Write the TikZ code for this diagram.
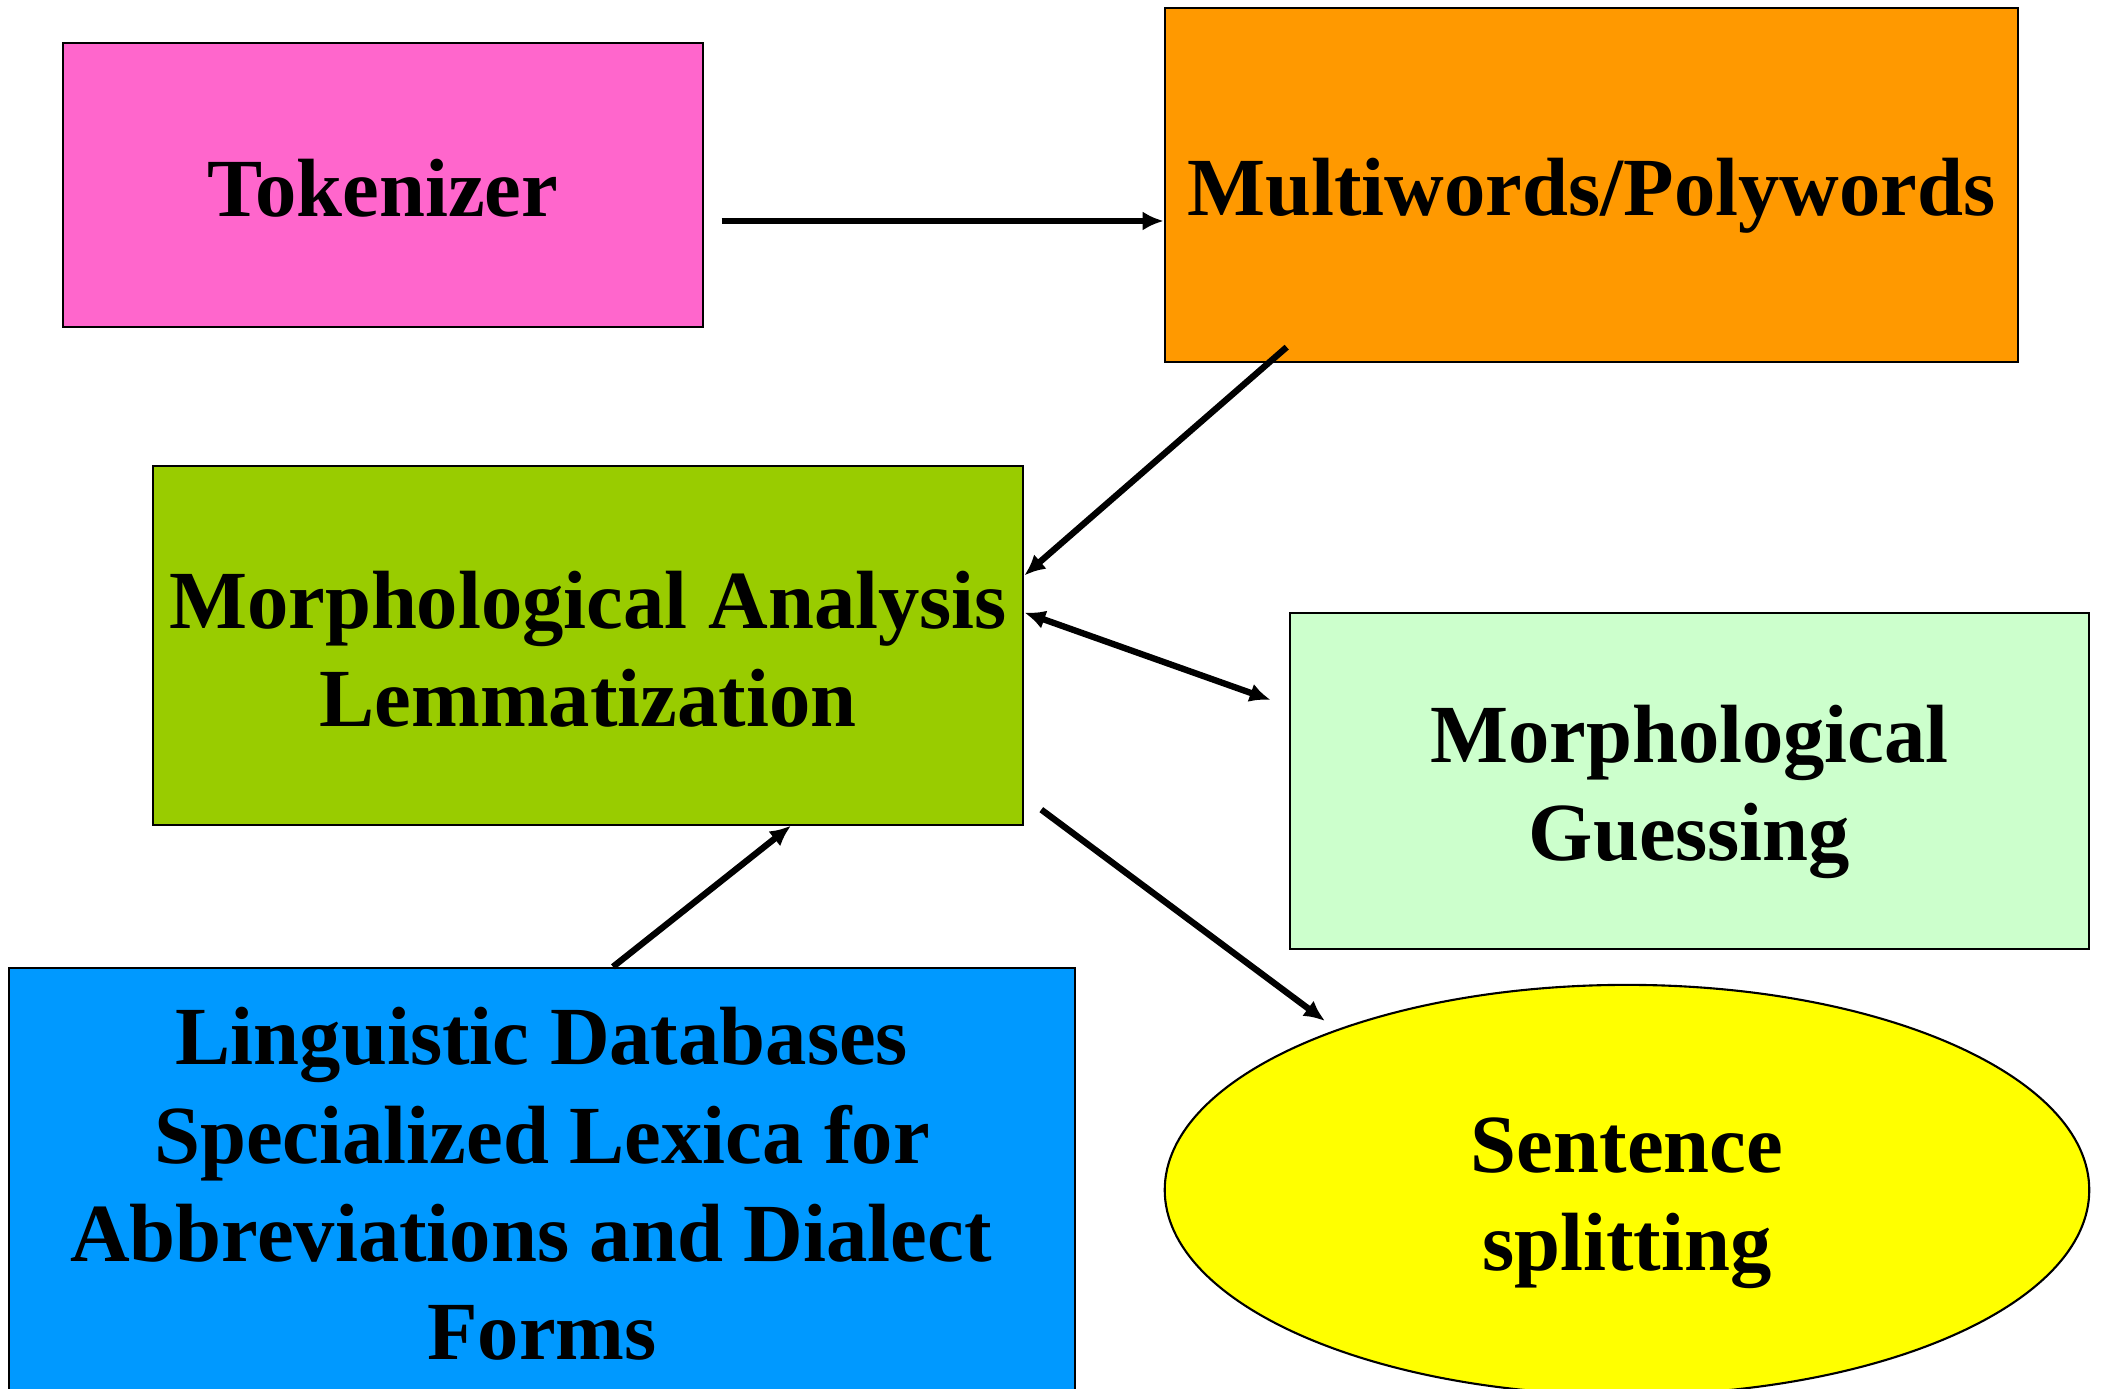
\documentclass[tikz,border=0pt]{standalone}
\usepackage{fontspec}
\setmainfont{Liberation Serif}
\usetikzlibrary{arrows.meta, shapes.geometric}
\definecolor{tokPink}{HTML}{FF66CC}
\definecolor{mwOrange}{HTML}{FF9900}
\definecolor{maGreen}{HTML}{99CC00}
\definecolor{mgGreen}{HTML}{CCFFCC}
\definecolor{dbBlue}{HTML}{0099FF}
\definecolor{ssYellow}{HTML}{FFFF00}

\begin{document}
\begin{tikzpicture}[x = 0.01cm, y = -0.01cm,
		box/.style = {draw, line width = 0.6pt, inner sep = 0pt},
		txt/.style = {align = center, inner sep = 0pt, font = \fontsize{23.5}{28}\selectfont\bfseries},
		arr/.style = {line width = 1.8pt, -{Latex[length = 0.21cm, width = 0.19cm]}}]
		\useasboundingbox (0, 0) rectangle (2102, 1389);
		%%%%%%%%%%%%%
		\node [box, fill = tokPink, minimum width = 6.39cm, minimum height = 2.84cm,
			label = {[txt, yshift = -0.03cm]center:Tokenizer}] (tok) at (383, 185) {};
		\node [box, fill = mwOrange, minimum width = 8.53cm, minimum height = 3.54cm,
			label = {[txt, yshift = -0.11cm]center:Multiwords/Polywords}] (mw) at (1591.5, 185) {};
		\node [box, fill = maGreen, minimum width = 8.70cm, minimum height = 3.58cm,
			label = {[txt, yshift = -0.04cm]center:Morphological Analysis\\Lemmatization}] (ma) at (588, 645.5) {};
		\node [box, fill = mgGreen, minimum width = 7.99cm, minimum height = 3.36cm,
			label = {[txt, yshift = -0.11cm]center:Morphological\\Guessing}] (mg) at (1689.5, 781) {};
		\node [box, fill = dbBlue, minimum width = 10.66cm, minimum height = 4.36cm,
			label = {[txt, yshift = 0.02cm]center:Linguistic Databases\\Specialized Lexica for\\Abbreviations and Dialect\kern0.22cm\\Forms}] (db) at (542, 1186) {};
		\node [box, ellipse, fill = ssYellow, minimum width = 9.24cm, minimum height = 4.10cm,
			label = {[txt, yshift = -0.13cm]center:Sentence\\splitting}] (ss) at (1627, 1190) {};
		%%%%%%%%%%%%%
		\draw [arr] ([shift = {(18, 36)}] tok.east) to ([shift = {(0, 36)}] mw.west);
		\draw [arr] ([shift = {(123, -16)}] mw.south west) to ([shift = {(0, -70)}] ma.east);
		\draw [arr, {Latex[length = 0.21cm, width = 0.19cm]}-{Latex[length = 0.21cm, width = 0.19cm]}] ([shift = {(0, -33)}] ma.east) to ([shift = {(-18, -81)}] mg.west);
		\draw [arr] ([shift = {(71, 0)}] db.north) to ([shift = {(203, 0)}] ma.south);
		\draw [arr] ([shift = {(17, -16)}] ma.south east) to ([shift = {(-302, -169)}] ss.center);
\end{tikzpicture}
\end{document}
